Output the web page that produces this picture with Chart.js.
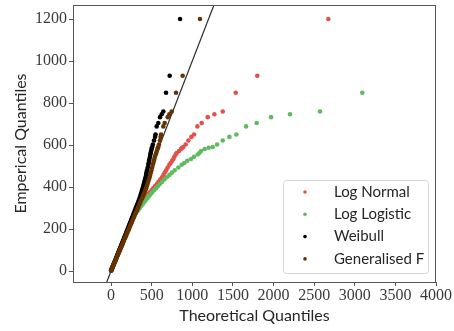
<!DOCTYPE html>
<html>
<head>
<meta charset="utf-8">
<script src="https://cdn.jsdelivr.net/npm/chart.js@4.4.0/dist/chart.umd.min.js"></script>
<style>
  html, body { margin: 0; padding: 0; background: #fff; }
  canvas { display: block; }
</style>
</head>
<body>
<canvas id="qqChart" width="454" height="331"></canvas>
<script>
// empirical quantiles, shared by every fitted distribution
const empirical = [
  3, 8, 14, 19, 25, 31, 37, 42, 49, 55,
  62, 68, 75, 81, 88, 95, 101, 108, 115, 122,
  129, 136, 143, 150, 158, 165, 172, 180, 188, 195,
  203, 211, 219, 227, 235, 243, 251, 259, 268, 276,
  285, 293, 302, 311, 320, 329, 338, 347, 356, 366,
  375, 385, 395, 405, 415, 425, 436, 447, 458, 469,
  480, 493, 506, 515, 525, 534, 544, 555, 562, 572,
  581, 587, 591, 603, 622, 639, 650, 689, 705, 733,
  747, 760, 849, 930, 1200
];

// theoretical quantiles for each fit
const logNormal = [
  1, 6, 12, 18, 24, 31, 37, 43, 50, 57,
  64, 71, 78, 85, 92, 99, 106, 113, 121, 128,
  136, 143, 151, 158, 166, 174, 181, 190, 198, 206,
  214, 223, 231, 240, 248, 257, 265, 274, 284, 293,
  303, 315, 328, 342, 357, 372, 390, 408, 430, 455,
  474, 497, 520, 543, 565, 586, 607, 628, 646, 662,
  678, 697, 718, 733, 752, 768, 780, 796, 809, 837,
  862, 876, 890, 919, 952, 989, 1022, 1063, 1116, 1190,
  1272, 1375, 1535, 1800, 2675
];
const logLogistic = [
  2, 7, 13, 19, 25, 32, 38, 44, 51, 58,
  65, 72, 79, 86, 93, 100, 107, 115, 122, 129,
  137, 144, 152, 159, 167, 175, 183, 191, 200, 208,
  216, 225, 234, 243, 252, 261, 270, 280, 292, 306,
  324, 340, 357, 374, 392, 410, 428, 447, 466, 486,
  507, 530, 555, 578, 602, 628, 656, 686, 718, 752,
  784, 829, 870, 902, 939, 985, 1022, 1067, 1088, 1108,
  1153, 1203, 1252, 1305, 1375, 1457, 1543, 1662, 1793, 1970,
  2203, 2572, 3093, 4350, 6900
];
const weibull = [
  2, 7, 13, 19, 25, 31, 37, 43, 50, 56,
  63, 70, 77, 83, 90, 97, 104, 111, 118, 125,
  132, 139, 147, 154, 162, 169, 177, 185, 193, 200,
  208, 216, 224, 232, 240, 248, 256, 264, 273, 281,
  290, 298, 307, 316, 325, 334, 343, 352, 360, 368,
  375, 382, 390, 396, 403, 410, 418, 425, 432, 436,
  443, 452, 459, 463, 468, 473, 479, 484, 488, 493,
  499, 503, 507, 515, 529, 542, 548, 562, 582, 603,
  624, 644, 677, 722, 850
];
const generalisedF = [
  3, 9, 15, 21, 27, 34, 40, 46, 53, 60,
  68, 74, 82, 89, 96, 104, 111, 118, 126, 134,
  141, 149, 157, 164, 173, 181, 189, 197, 206, 214,
  223, 231, 240, 249, 258, 266, 275, 284, 294, 303,
  313, 322, 332, 342, 352, 362, 372, 382, 392, 402,
  412, 422, 432, 441, 449, 457, 466, 474, 482, 490,
  497, 506, 514, 520, 527, 533, 540, 550, 556, 564,
  572, 577, 582, 590, 602, 610, 616, 644, 660, 698,
  718, 747, 800, 882, 1095
];

const seriesNames = ['Log Normal', 'Log Logistic', 'Weibull', 'Generalised F'];
const seriesColors = ['#e0524a', '#5fba60', '#000000', '#663300'];
const seriesValues = [logNormal, logLogistic, weibull, generalisedF];

// 45 degree reference line end points
const refLine = [-200, 1500];

const xTicks = [0, 500, 1000, 1500, 2000, 2500, 3000, 3500, 4000];
const yTicks = [0, 200, 400, 600, 800, 1000, 1200];

const axisColor = '#555555';
const textColor = '#262626';
const tickColor = '#3a3a3a';
const tickFont = { family: "'Liberation Serif', 'DejaVu Serif', serif", size: 16 };
const titleFont = { family: 'Lato', size: 16 };

const scatterSets = seriesNames.map((name, i) => ({
  label: name,
  data: seriesValues[i].map((x, j) => ({ x: x, y: empirical[j] })),
  backgroundColor: seriesColors[i],
  borderWidth: 0,
  pointRadius: 2.3,
  pointBorderWidth: 0,
  pointHoverRadius: 2.3,
  order: 4 - i
}));

const lineSet = {
  type: 'line',
  label: 'reference',
  data: refLine.map(v => ({ x: v, y: v })),
  borderColor: '#2b2b2b',
  borderWidth: 1.2,
  pointRadius: 0,
  fill: false,
  order: 10
};

// axes box drawn round the plotting area
const frame = {
  id: 'frame',
  afterDatasetsDraw(chart) {
    const a = chart.chartArea;
    const ctx = chart.ctx;
    ctx.save();
    ctx.strokeStyle = axisColor;
    ctx.lineWidth = 1;
    ctx.strokeRect(a.left + 0.5, a.top + 0.5, a.right - a.left - 1, a.bottom - a.top);
    ctx.restore();
  }
};

// legend box in the lower right corner of the plot
const qqLegend = {
  id: 'qqLegend',
  afterDraw(chart) {
    const a = chart.chartArea;
    const ctx = chart.ctx;
    const w = 145, h = 93;
    const x = a.right - 8 - w + 0.5;
    const y = a.bottom - 9 - h + 0.5;
    ctx.save();
    ctx.beginPath();
    ctx.roundRect(x, y, w, h, 3);
    ctx.fillStyle = 'rgba(255,255,255,0.85)';
    ctx.fill();
    ctx.strokeStyle = '#d6d6d6';
    ctx.lineWidth = 1;
    ctx.stroke();
    ctx.font = '15px Lato';
    ctx.textBaseline = 'middle';
    seriesNames.forEach((name, i) => {
      const rowY = y + 11.5 + i * 22.3;
      ctx.fillStyle = seriesColors[i];
      ctx.beginPath();
      ctx.arc(x + 21.5, rowY, 1.8, 0, Math.PI * 2);
      ctx.fill();
      ctx.fillStyle = textColor;
      ctx.fillText(name, x + 50.5, rowY);
    });
    ctx.restore();
  }
};

const ctx = document.getElementById('qqChart').getContext('2d');
const qqChart = new Chart(ctx, {
  type: 'scatter',
  data: { datasets: [...scatterSets, lineSet] },
  options: {
    responsive: false,
    animation: false,
    devicePixelRatio: 1,
    layout: { padding: { left: 0, right: 18, top: 5, bottom: 0 } },
    plugins: {
      legend: { display: false },
      tooltip: { enabled: false }
    },
    scales: {
      x: {
        type: 'linear',
        position: 'bottom',
        min: -468,
        max: 4000,
        afterBuildTicks: s => { s.ticks = xTicks.map(v => ({ value: v })); },
        afterFit: s => { s.height = 49; s.paddingLeft = 0; s.paddingRight = 0; },
        grid: { drawOnChartArea: false, drawTicks: true, tickLength: 4, color: axisColor },
        border: { display: false },
        ticks: {
          font: tickFont,
          color: tickColor,
          padding: 0,
          maxRotation: 0,
          autoSkip: false,
          callback: v => String(v)
        },
        title: {
          display: true,
          text: 'Theoretical Quantiles',
          font: titleFont,
          color: textColor,
          padding: { top: 0, bottom: 6 }
        }
      },
      y: {
        type: 'linear',
        min: -52,
        max: 1267,
        afterBuildTicks: s => { s.ticks = yTicks.map(v => ({ value: v })); },
        afterFit: s => { s.width = 73; s.paddingTop = 0; s.paddingBottom = 0; },
        grid: { drawOnChartArea: false, drawTicks: true, tickLength: 4, color: axisColor },
        border: { display: false },
        ticks: {
          font: tickFont,
          color: tickColor,
          padding: 2,
          autoSkip: false,
          callback: v => String(v)
        },
        title: {
          display: true,
          text: 'Emperical Quantiles',
          font: titleFont,
          color: textColor,
          padding: { top: 11, bottom: 0 }
        }
      }
    }
  },
  plugins: [frame, qqLegend]
});
</script>
</body>
</html>
